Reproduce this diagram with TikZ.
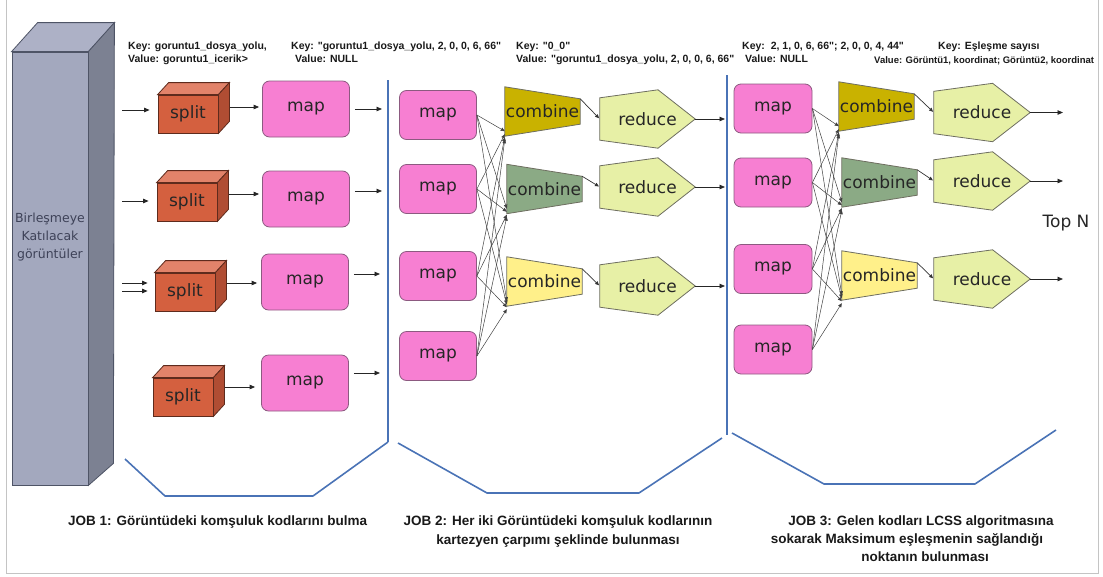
\documentclass[tikz,border=0pt]{standalone}
\usepackage{fontspec}
\setmainfont{Liberation Sans}
\newfontfamily\notefont{Liberation Sans}
\newfontfamily\dejavu{DejaVu Sans}
\usetikzlibrary{arrows.meta,calc}
\pgfdeclarelayer{bg}
\pgfsetlayers{bg,main}

\definecolor{colfront}{HTML}{A3A8BE}
\definecolor{coltop}{HTML}{ADB1C6}
\definecolor{colside}{HTML}{7C8192}
\definecolor{coledge}{HTML}{4E5466}
\definecolor{coltext}{HTML}{3E4258}
\definecolor{splitfront}{HTML}{D4603F}
\definecolor{splittop}{HTML}{E2836A}
\definecolor{splitside}{HTML}{B04D33}
\definecolor{splitedge}{HTML}{5E2B1D}
\definecolor{mapfill}{HTML}{F77FD2}
\definecolor{mapedge}{HTML}{8C5A80}
\definecolor{combA}{HTML}{C9B200}
\definecolor{combB}{HTML}{8BAA85}
\definecolor{combC}{HTML}{FFF08A}
\definecolor{shapeedge}{HTML}{6E6E60}
\definecolor{redfill}{HTML}{E7F0A6}
\definecolor{jobblue}{HTML}{4A73B6}
\definecolor{framegray}{HTML}{C4C4C4}

% outline of a combiner: tall left side, short right side
\newcommand\combshape[2]{%
  \filldraw[fill=#2, draw=shapeedge, line width=0.8pt]
    (#1.north west) -- ($(#1.north east)+(0,12)$) -- ($(#1.south east)+(0,-12)$)
    -- (#1.south west) -- cycle;}
% outline of a reducer: pentagon pointing east
\newcommand\redshape[1]{%
  \filldraw[fill=redfill, draw=shapeedge, line width=0.8pt]
    (#1.east) -- ($(#1.north west)!0.61!(#1.north east)$) -- ($(#1.north west)+(0,8)$)
    -- ($(#1.south west)+(0,-8)$) -- ($(#1.south west)!0.61!(#1.south east)$) -- cycle;}
% top and side faces of a split block
\newcommand\cubefaces[1]{%
  \filldraw[fill=splittop, draw=splitedge, line width=0.8pt]
    (#1.north west) -- ++(11,-12) -- ($(#1.north east)+(11,-12)$) -- (#1.north east) -- cycle;
  \filldraw[fill=splitside, draw=splitedge, line width=0.8pt]
    (#1.north east) -- ++(11,-12) -- ($(#1.south east)+(11,-12)$) -- (#1.south east) -- cycle;}

\begin{document}
\begin{tikzpicture}[x=1pt,y=-1pt,
  lblbox/.style={inner sep=0pt, font=\dejavu\fontsize{17}{20}\selectfont, text=black!85},
  mapbox/.style={lblbox, rectangle, rounded corners=7pt, draw=mapedge, fill=mapfill,
    line width=0.8pt, minimum width=87pt, minimum height=56pt},
  smallmap/.style={mapbox, minimum width=77pt, minimum height=49pt},
  splitbox/.style={lblbox, draw=splitedge, fill=splitfront, line width=0.8pt,
    minimum width=60pt, minimum height=38pt},
  combbox/.style={lblbox, minimum width=75pt, minimum height=49pt},
  redbox/.style={lblbox, minimum width=95pt, minimum height=58pt},
  arr/.style={draw=black!85, line width=0.8pt, -{Triangle[length=5.5pt,width=4.5pt]}},
  fan/.style={draw=black!75, line width=0.5pt, -{Triangle[length=4pt,width=3.5pt]}},
  feed/.style={draw=black!80, line width=0.7pt, -{Triangle[length=4pt,width=3.5pt]}},
  jobline/.style={draw=jobblue, line width=1.6pt, line join=round},
  note/.style={inner sep=0pt, anchor=base west, font=\notefont\bfseries\fontsize{10.5}{12}\selectfont, text=black!90},
  caption/.style={inner sep=0pt, anchor=base, font=\bfseries\fontsize{13.5}{15}\selectfont, text=black!90},
]
\useasboundingbox (0,0) rectangle (1103,576);

% page frame
\draw[framegray, line width=1pt] (6,0) -- (6,573) -- (1098,573) -- (1098,0);

% input column
\node[draw=coledge, fill=colfront, line width=0.8pt, minimum width=76pt, minimum height=433pt, inner sep=0pt] (col) at (50,268.5) {};
\filldraw[fill=coltop, draw=coledge, line width=0.8pt]
  (col.north west) -- ++(26,-29) -- ++(77,0) -- (col.north east) -- cycle;
\filldraw[fill=colside, draw=coledge, line width=0.8pt]
  (col.north east) -- ++(26,-29) -- ($(col.south east)+(25,-22)$) -- (col.south east) -- cycle;
\node[align=center, inner sep=0pt, font=\dejavu\fontsize{12.5}{18}\selectfont, text=coltext] (colt) at (50,237)
  {Birleşmeye\\Katılacak\\görüntüler};

% key / value notes
\node[note] (k1) at (128,49) {Key: goruntu1\_dosya\_yolu,};
\node[note] (v1) at (128,62) {Value: goruntu1\_icerik>};
\node[note] (k2) at (291,49) {Key: "goruntu1\_dosya\_yolu, 2, 0, 0, 6, 66"};
\node[note] (v2) at (295,62) {Value: NULL};
\node[note] (k3) at (516,49) {Key: "0\_0"};
\node[note] (v3) at (516,62) {Value: "goruntu1\_dosya\_yolu, 2, 0, 0, 6, 66"};
\node[note] (k4) at (742,49) {Key:\ \ 2, 1, 0, 6, 66"; 2, 0, 0, 4, 44"};
\node[note] (v4) at (745,62) {Value: NULL};
\node[note] (k5) at (938,49) {Key: Eşleşme sayısı};
\node[note, font=\notefont\bfseries\fontsize{9.5}{11}\selectfont] (v5) at (874,63.5) {Value: Görüntü1, koordinat; Görüntü2, koordinat};

% ---------------- JOB 1 ----------------
\node[splitbox] (s1) at (188,114) {split};
\node[splitbox] (s2) at (187,202) {split};
\node[splitbox] (s3) at (185,292) {split};
\node[splitbox] (s4) at (183,397) {split};
\cubefaces{s1}\cubefaces{s2}\cubefaces{s3}\cubefaces{s4}

\node[mapbox] (m1) at (306,109) {map};
\node[mapbox] (m2) at (306,199) {map};
\node[mapbox] (m3) at (305,282) {map};
\node[mapbox] (m4) at (305,383) {map};

\coordinate (i1) at (122,110);
\coordinate (i2) at (122,201);
\coordinate (i3a) at (122,283);
\coordinate (i3b) at (122,291);
\draw[arr, shorten >=8pt] (i1) -- (i1 -| s1.west);
\draw[arr, shorten >=8pt] (i2) -- (i2 -| s2.west);
\draw[arr, shorten >=7pt] (i3a) -- (i3a -| s3.west);
\draw[arr, shorten >=7pt] (i3b) -- (i3b -| s3.west);

\coordinate (h1) at (0,107);
\coordinate (h2) at (0,194);
\coordinate (h3) at (0,283);
\coordinate (h4) at (0,387);
\draw[arr, shorten <=12pt, shorten >=3pt] (h1 -| s1.east) -- (h1 -| m1.west);
\draw[arr, shorten <=12pt, shorten >=3pt] (h2 -| s2.east) -- (h2 -| m2.west);
\draw[arr, shorten <=12pt, shorten >=4pt] (h3 -| s3.east) -- (h3 -| m3.west);
\draw[arr, shorten <=12pt, shorten >=6pt] (h4 -| s4.east) -- (h4 -| m4.west);

\coordinate (o1) at (382,109);
\coordinate (o2) at (382,191);
\coordinate (o3) at (380,274);
\coordinate (o4) at (380,373);
\draw[arr, shorten <=5pt] (o1 -| m1.east) -- (o1);
\draw[arr, shorten <=5pt] (o2 -| m2.east) -- (o2);
\draw[arr, shorten <=5pt] (o3 -| m3.east) -- (o3);
\draw[arr, shorten <=5pt] (o4 -| m4.east) -- (o4);

% ---------------- JOB 2 ----------------
\node[smallmap] (m2a) at (438,115) {map};
\node[smallmap] (m2b) at (438,189) {map};
\node[smallmap] (m2c) at (438,276) {map};
\node[smallmap] (m2d) at (438,356) {map};

\node[combbox] (c2a) at (542.5,111.5) {combine};
\node[combbox] (c2b) at (544.5,189) {combine};
\node[combbox] (c2c) at (544.5,281.5) {combine};

\node[redbox] (r2a) at (647.5,119) {reduce};
\node[redbox] (r2b) at (647.5,187) {reduce};
\node[redbox] (r2c) at (647.5,286) {reduce};

% ---------------- JOB 3 ----------------
\node[smallmap, minimum width=78pt] (m3a) at (773,108.5) {map};
\node[smallmap, minimum width=78pt] (m3b) at (773,182.5) {map};
\node[smallmap, minimum width=78pt] (m3c) at (773,269) {map};
\node[smallmap, minimum width=78pt] (m3d) at (773,349.5) {map};

\node[combbox] (c3a) at (876.5,106.5) {combine};
\node[combbox] (c3b) at (879.5,182.5) {combine};
\node[combbox] (c3c) at (879.5,275.5) {combine};

\node[redbox, minimum width=96pt] (r3a) at (982,112.5) {reduce};
\node[redbox, minimum width=96pt] (r3b) at (982,181) {reduce};
\node[redbox, minimum width=96pt] (r3c) at (982,279) {reduce};

\node[lblbox, font=\dejavu\fontsize{17}{20}\selectfont] (topn) at (1066,223) {Top N};

% shape outlines behind the labels
\begin{pgfonlayer}{bg}
  \combshape{c2a}{combA}\combshape{c2b}{combB}\combshape{c2c}{combC}
  \combshape{c3a}{combA}\combshape{c3b}{combB}\combshape{c3c}{combC}
  \redshape{r2a}\redshape{r2b}\redshape{r2c}
  \redshape{r3a}\redshape{r3b}\redshape{r3c}
\end{pgfonlayer}

% every map feeds every combiner
\foreach \m/\k in {m2a/-5,m2b/-2,m2c/1,m2d/3}
  \foreach \c in {c2a,c2b,c2c}
    \draw[fan] (\m.east) -- ($(\c.south west)+(0,\k)$);
\foreach \m/\k in {m3a/-5,m3b/-2,m3c/1,m3d/3}
  \foreach \c in {c3a,c3b,c3c}
    \draw[fan] (\m.east) -- ($(\c.south west)+(0,\k)$);

% combiner -> reducer
\foreach \c/\r in {c2a/r2a,c2b/r2b,c2c/r2c,c3a/r3a,c3b/r3b,c3c/r3c}
  \draw[feed, shorten >=1pt] ($(\c.north east)+(0,12)$) -- (\r.west);

% reducer outputs
\coordinate (x2) at (725,0);
\coordinate (x3) at (1063,0);
\foreach \r in {r2a,r2b,r2c}
  \draw[arr] (\r.east) -- (\r.east -| x2);
\foreach \r in {r3a,r3b,r3c}
  \draw[arr] (\r.east) -- (\r.east -| x3);

% job separators and brackets
\draw[jobline] (388,80) -- (388,442);
\draw[jobline] (727,75) -- (727,435);
\draw[jobline] (125,459) -- (165,496) -- (313,496) -- (388,442);
\draw[jobline] (398,443) -- (487,493) -- (639,493) -- (722,438);
\draw[jobline] (732,433) -- (824,484) -- (975,484) -- (1056,430);

% job captions
\node[caption, anchor=base west] (j1) at (68,525.5) {JOB 1: Görüntüdeki komşuluk kodlarını bulma};
\node[caption] (j2a) at (558,525.5) {JOB 2: Her iki Görüntüdeki komşuluk kodlarının};
\node[caption] (j2b) at (558,544.5) {kartezyen çarpımı şeklinde bulunması};
\node[caption] (j3a) at (921,525.5) {JOB 3: Gelen kodları LCSS algoritmasına};
\node[caption] (j3b) at (907,543.5) {sokarak Maksimum eşleşmenin sağlandığı};
\node[caption] (j3c) at (925,561.5) {noktanın bulunması};
\end{tikzpicture}
\end{document}
